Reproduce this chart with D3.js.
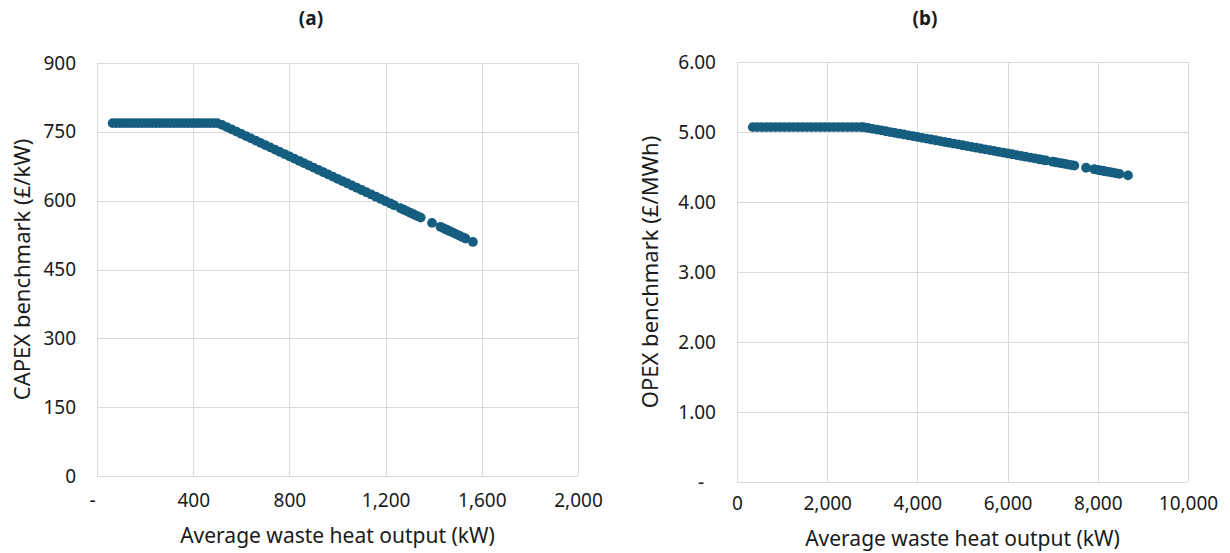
<!DOCTYPE html>
<html>
<head>
<meta charset="utf-8">
<script src="https://cdn.jsdelivr.net/npm/d3@7"></script>
<style>
  body { margin: 0; background: #fff; }
  svg text { font-family: "Noto Sans", "Open Sans", sans-serif; fill: #1a1a1a; }
  .grid line { stroke: #d9d9d9; stroke-width: 1; }
</style>
</head>
<body>
<svg id="chart" width="1230" height="553"></svg>
<script>
// panel (a) - CAPEX benchmark vs average waste heat output
var capexKW = [65, 80, 95, 110, 125, 140, 155, 170, 185, 200, 215, 230, 245, 260, 275, 290, 305, 320,
  335, 350, 365, 380, 395, 410, 425, 440, 455, 470, 485, 500,
  520, 540, 560, 580, 600, 620, 640, 660, 680, 700, 720, 740, 760, 780, 800, 820, 840, 860, 880, 900,
  920, 940, 960, 980, 1000, 1020, 1040, 1060, 1080, 1100, 1120, 1140, 1160, 1180, 1200, 1220, 1235,
  1262, 1276, 1290, 1304, 1318, 1332, 1346, 1393,
  1428, 1441, 1454, 1467, 1480, 1493, 1506, 1519, 1532, 1563];
var capexRate = [769, 769, 769, 769, 769, 769, 769, 769, 769, 769, 769, 769, 769, 769, 769, 769, 769, 769,
  769, 769, 769, 769, 769, 769, 769, 769, 769, 769, 769, 769,
  765.1, 760.2, 755.3, 750.4, 745.5, 740.6, 735.8, 730.9, 726.0, 721.1, 716.2, 711.3, 706.4, 701.5, 696.6,
  691.7, 686.8, 681.9, 677.1, 672.2, 667.3, 662.4, 657.5, 652.6, 647.7, 642.8, 637.9, 633.0, 628.1, 623.2,
  618.4, 613.5, 608.6, 603.7, 598.8, 593.9, 590.2,
  583.6, 580.2, 576.8, 573.3, 569.9, 566.5, 563.1, 551.6,
  543.0, 539.8, 536.6, 533.5, 530.3, 527.1, 523.9, 520.7, 517.6, 510.0];
var capexXTicks = [0, 400, 800, 1200, 1600, 2000];
var capexYTicks = [0, 150, 300, 450, 600, 750, 900];

// panel (b) - OPEX benchmark vs average waste heat output
var opexKW = [350, 450, 550, 650, 750, 850, 950, 1050, 1150, 1250, 1350, 1450, 1550, 1650, 1750, 1850,
  1950, 2050, 2150, 2250, 2350, 2450, 2550, 2650, 2750, 2800,
  2900, 3000, 3100, 3200, 3300, 3400, 3500, 3600, 3700, 3800, 3900, 4000, 4100, 4200, 4300, 4400, 4500,
  4600, 4700, 4800, 4900, 5000, 5100, 5200, 5300, 5400, 5500, 5600, 5700, 5800, 5900, 6000, 6100, 6200,
  6300, 6400, 6500, 6600, 6700, 6780, 6850,
  7000, 7070, 7140, 7210, 7280, 7350, 7420, 7480, 7740,
  7920, 7990, 8060, 8130, 8200, 8270, 8340, 8410, 8480, 8670];
var opexRate = [5.07, 5.07, 5.07, 5.07, 5.07, 5.07, 5.07, 5.07, 5.07, 5.07, 5.07, 5.07, 5.07, 5.07, 5.07, 5.07,
  5.07, 5.07, 5.07, 5.07, 5.07, 5.07, 5.07, 5.07, 5.07, 5.07,
  5.058, 5.046, 5.035, 5.023, 5.011, 4.999, 4.988, 4.976, 4.964, 4.952, 4.941, 4.929, 4.917, 4.905, 4.893,
  4.882, 4.870, 4.858, 4.847, 4.835, 4.823, 4.811, 4.799, 4.788, 4.776, 4.764, 4.753, 4.741, 4.729, 4.717,
  4.706, 4.694, 4.682, 4.670, 4.658, 4.647, 4.635, 4.623, 4.611, 4.602, 4.594,
  4.576, 4.568, 4.560, 4.552, 4.544, 4.535, 4.527, 4.520, 4.489,
  4.468, 4.460, 4.451, 4.443, 4.435, 4.427, 4.419, 4.410, 4.402, 4.380];
var opexXTicks = [0, 2000, 4000, 6000, 8000, 10000];
var opexYTicks = [0, 1, 2, 3, 4, 5, 6];

var dotColor = "#165e80";
var svg = d3.select("#chart");

function drawPanel(p) {
  var x = d3.scaleLinear().domain([p.xTicks[0], p.xTicks[p.xTicks.length - 1]]).range([p.left, p.right]);
  var y = d3.scaleLinear().domain([p.yTicks[0], p.yTicks[p.yTicks.length - 1]]).range([p.bottom, p.top]);
  var g = svg.append("g");

  // gridlines (the outer box is just the outer gridlines)
  var grid = g.append("g").attr("class", "grid");
  grid.selectAll("line.h").data(p.yTicks).enter().append("line")
      .attr("x1", p.left).attr("x2", p.right)
      .attr("y1", function(d) { return Math.round(y(d)) + 0.5; })
      .attr("y2", function(d) { return Math.round(y(d)) + 0.5; });
  grid.selectAll("line.v").data(p.xTicks).enter().append("line")
      .attr("y1", p.top).attr("y2", p.bottom)
      .attr("x1", function(d) { return Math.round(x(d)) + 0.5; })
      .attr("x2", function(d) { return Math.round(x(d)) + 0.5; });

  // axes, only used for the labels
  var xAxis = g.append("g").attr("transform", "translate(0," + p.bottom + ")")
      .call(d3.axisBottom(x).tickValues(p.xTicks).tickFormat(p.xFormat).tickSize(0).tickPadding(p.xPad));
  var yAxis = g.append("g").attr("transform", "translate(" + p.left + ",0)")
      .call(d3.axisLeft(y).tickValues(p.yTicks).tickFormat(p.yFormat).tickSize(0).tickPadding(21));
  [xAxis, yAxis].forEach(function(a) {
    a.select(".domain").remove();
    a.selectAll("text").style("font-size", "19px").style("fill", "#1a1a1a")
      .style("font-family", '"Noto Sans", "Open Sans", sans-serif');
  });
  // Excel style "-" for zero sits a bit off the others
  xAxis.selectAll("text").filter(function(d) { return p.xFormat(d) == "-"; }).attr("dx", -5);
  yAxis.selectAll("text").filter(function(d) { return p.yFormat(d) == "-"; }).attr("dx", -12);

  g.append("g").selectAll("circle")
      .data(p.xs.map(function(v, i) { return {x: v, y: p.ys[i]}; }))
      .enter().append("circle")
        .attr("cx", function(d) { return x(d.x); })
        .attr("cy", function(d) { return y(d.y); })
        .attr("r", 4.9)
        .attr("fill", dotColor);

  g.append("text").attr("x", p.titleX).attr("y", 25).attr("text-anchor", "middle")
      .style("font-size", "19px").style("font-weight", "bold").text(p.title);
  g.append("text").attr("x", (p.left + p.right) / 2).attr("y", p.xTitleY).attr("text-anchor", "middle")
      .style("font-size", "21px").text("Average waste heat output (kW)");
  g.append("text").attr("transform", "translate(" + p.yTitleX + "," + (p.top + p.bottom) / 2 + ") rotate(-90)")
      .attr("text-anchor", "middle").attr("dy", "0.35em")
      .style("font-size", "22px").text(p.yTitle);
}

drawPanel({
  xs: capexKW, ys: capexRate, xTicks: capexXTicks, yTicks: capexYTicks,
  left: 97, right: 578, top: 63, bottom: 476,
  xFormat: function(d) { return d == 0 ? "-" : d3.format(",")(d); },
  yFormat: function(d) { return d3.format(",")(d); },
  xPad: 18, title: "(a)", titleX: 311, xTitleY: 543, yTitleX: 22,
  yTitle: "CAPEX benchmark (£/kW)"
});

drawPanel({
  xs: opexKW, ys: opexRate, xTicks: opexXTicks, yTicks: opexYTicks,
  left: 737, right: 1188, top: 62, bottom: 482,
  xFormat: function(d) { return d3.format(",")(d); },
  yFormat: function(d) { return d == 0 ? "-" : d3.format(".2f")(d); },
  xPad: 15, title: "(b)", titleX: 925, xTitleY: 546, yTitleX: 650,
  yTitle: "OPEX benchmark (£/MWh)"
});
</script>
</body>
</html>
